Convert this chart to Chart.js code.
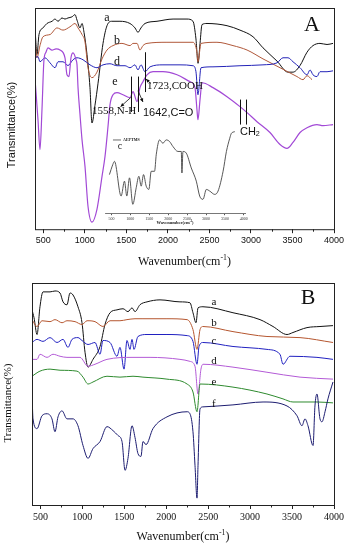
<!DOCTYPE html>
<html>
<head>
<meta charset="utf-8">
<script src="https://cdn.jsdelivr.net/npm/chart.js@4.4.1/dist/chart.umd.min.js"></script>
<style>
  body { margin: 0; background: #fff; }
  #wrap { position: relative; width: 350px; height: 550px; }
  canvas { position: absolute; }
</style>
</head>
<body>
<div id="wrap">
  <canvas id="chartA" width="350" height="275" style="left:0px;top:0px"></canvas>
  <canvas id="inset" width="150" height="105" style="left:100px;top:125px"></canvas>
  <canvas id="chartB" width="350" height="275" style="left:0px;top:275px"></canvas>
</div>
<script>
// x ticks (cm-1)
const majorTicks = [500, 1000, 1500, 2000, 2500, 3000, 3500, 4000];
const minorTicks = [750, 1250, 1750, 2250, 2750, 3250, 3750];

// ---- panel A ----
const aWaveA = [400, 424, 448, 496, 544, 605, 641, 677, 725, 761, 797, 845, 882, 906, 942, 966, 990, 1026, 1062, 1086, 1122, 1159, 1219, 1267, 1327, 1423, 1543, 1604, 1640, 1676, 1724, 1869, 2062, 2230, 2302, 2338, 2363, 2387, 2411, 2471, 2712, 2868, 3025, 3145, 3314, 3446, 3506, 3591, 3675, 3747, 3831, 3916, 3988];
const aTransA = [91, 79, 88, 91, 93, 94, 95, 94, 95.5, 95, 95.5, 96, 97, 94.5, 91, 93, 89, 79, 64, 48, 56, 66, 84, 92, 94, 94, 93, 91, 89, 91, 93, 94, 95, 95, 94, 86, 75, 84, 92.5, 93, 92, 90, 87, 82, 76, 71, 71, 74, 80, 83, 84, 83.5, 84];

const bWaveA = [400, 424, 460, 496, 581, 665, 737, 821, 882, 918, 966, 1002, 1038, 1086, 1146, 1207, 1267, 1339, 1447, 1544, 1580, 1628, 1664, 1700, 1748, 1989, 2302, 2350, 2362, 2399, 2591, 2784, 2953, 3145, 3350, 3554, 3627, 3675, 3735];
const bTransA = [86.5, 77.5, 83, 87, 88, 91, 90, 91.5, 93, 91, 88, 84.7, 73, 68.5, 71, 77, 81, 83, 84, 83, 84, 84, 81, 83, 84, 84.5, 84.5, 80, 75.7, 84, 84.5, 83, 81, 77, 73, 69, 67.6, 69.4, 67.6];

const dWaveA = [400, 436, 460, 520, 581, 641, 677, 737, 797, 858, 906, 978, 1062, 1146, 1219, 1303, 1387, 1484, 1544, 1604, 1640, 1676, 1724, 1785, 1941, 2146, 2302, 2338, 2362, 2399, 2543, 2868, 3145, 3314, 3386, 3446, 3506, 3591, 3675, 3711, 3747, 3795, 3831, 3916, 3988];
const dTransA = [77.5, 78, 75.7, 77.5, 75.2, 73, 75.7, 75.7, 74, 76.6, 77.5, 76.6, 74.3, 73, 74.3, 74.8, 73.9, 73.9, 73, 74.3, 72, 74.3, 71.2, 73.4, 74.3, 74.3, 73.9, 71.2, 60.8, 73, 73.4, 73.9, 74.3, 75.2, 77.5, 77.5, 75.7, 73, 69.8, 72, 69.8, 69, 71.2, 71.2, 71.6];

const eWaveA = [400, 436, 460, 484, 508, 532, 556, 605, 653, 701, 761, 785, 809, 833, 858, 894, 906, 918, 942, 966, 1002, 1038, 1086, 1146, 1207, 1243, 1279, 1303, 1339, 1387, 1460, 1544, 1580, 1628, 1664, 1700, 1748, 1821, 1941, 2110, 2266, 2326, 2350, 2362, 2387, 2411, 2543, 2712, 2868, 2953, 3073, 3229, 3350, 3434, 3506, 3591, 3675, 3795, 3868, 3988];
const eTransA = [68, 49.5, 36, 54, 76.6, 80, 82, 81, 81.5, 81, 77.5, 69.8, 69, 77.5, 79.7, 76.6, 74.3, 64, 51.8, 40.5, 28.4, 10.4, 3.2, 9, 23.9, 32.9, 46.4, 56.3, 60.8, 61.7, 60.8, 59.5, 62.2, 57.7, 64, 66.7, 69.8, 71.2, 71.2, 69.8, 66.7, 64, 54, 49.5, 58.6, 66.2, 64, 59.9, 55.4, 52.7, 48.6, 43.7, 38.3, 36.5, 39.2, 43.7, 45.9, 47.3, 46.8, 47.3];

// inset, AEPTMS (curve c)
const cWave = [447, 535, 580, 756, 845, 906, 977, 1065, 1155, 1224, 1287, 1348, 1419, 1489, 1551, 1640, 1684, 1772, 1860, 1949, 2037, 2125, 2257, 2346, 2363, 2390, 2478, 2610, 2743, 2832, 2920, 3009, 3097, 3230, 3318, 3451, 3539, 3627, 3671, 3760];
const cTrans = [46.4, 58.3, 62.3, 20.6, 38.5, 20.6, 42.5, 10.7, 30.6, 44.4, 32.5, 46.4, 32.5, 28.6, 50.4, 50.4, 70.2, 88.1, 84.1, 88.1, 86.1, 80.2, 74.2, 74.2, 48.4, 74.2, 72.2, 54.4, 38.5, 20.6, 16.7, 28.6, 26.6, 22.6, 26.6, 50.4, 74.2, 90.1, 96, 98];
const insetTicks = [500, 1000, 1500, 2000, 2500, 3000, 3500, 4000];

// ---- panel B ----
const aWaveB = [400, 424, 460, 495, 531, 615, 674, 734, 770, 817, 853, 889, 948, 996, 1032, 1068, 1127, 1211, 1270, 1330, 1413, 1485, 1544, 1592, 1628, 1687, 1771, 1926, 2164, 2283, 2319, 2355, 2379, 2438, 2796, 3118, 3273, 3440, 3511, 3678, 3833, 3988];
const aTransB = [87.9, 84.4, 76.8, 89.3, 96, 96, 96.4, 95.5, 91.5, 90.2, 95.5, 94.6, 89.3, 82.1, 68.8, 62.1, 65.6, 71.4, 81.3, 86.6, 87.9, 88.4, 87.1, 88.8, 87.1, 90.2, 91.5, 92.4, 91.5, 91.1, 86.6, 82.1, 88.8, 89.3, 86.6, 83.5, 80.4, 76.8, 77.7, 79.9, 80.4, 80.8];

const bWaveB = [400, 460, 519, 615, 674, 758, 817, 913, 996, 1056, 1151, 1246, 1330, 1449, 1532, 1628, 1723, 2009, 2248, 2319, 2367, 2403, 2438, 2796, 3201, 3595, 3988];
const bTransB = [83.5, 80.4, 83, 82.6, 83.5, 82.1, 83, 82.6, 81.3, 83, 82.6, 80.4, 83, 83, 83.5, 83.9, 83.9, 83.9, 83.5, 79, 70.1, 79, 80.4, 78.1, 75.9, 75.4, 73.2];

const cWaveB = [400, 460, 531, 615, 698, 770, 829, 877, 948, 996, 1068, 1151, 1211, 1246, 1330, 1413, 1449, 1497, 1532, 1568, 1592, 1616, 1663, 1771, 2009, 2248, 2319, 2367, 2391, 2438, 2796, 3201, 3356, 3392, 3475, 3797, 3988];
const cTransB = [73.2, 74.6, 73.7, 75.4, 73.2, 74.6, 71, 74.6, 75.4, 74.1, 72.3, 73.2, 67.9, 74.1, 73.2, 67, 71, 61.2, 74.1, 70.1, 74.6, 70.1, 75.9, 76.8, 76.8, 76.3, 73.7, 63.4, 71.4, 73.2, 71.4, 70.1, 67.9, 63.4, 67, 66.5, 65.6];

const dWaveB = [400, 460, 495, 579, 650, 734, 817, 972, 1068, 1151, 1294, 1604, 1807, 2164, 2283, 2343, 2379, 2414, 2438, 2796, 3201, 3595, 3988];
const dTransB = [65.6, 65.6, 67.9, 66.5, 67.9, 67, 66.5, 66.5, 62.5, 63.4, 65.6, 66.5, 66.5, 65.6, 64.7, 62.5, 50, 61.2, 63.4, 62.1, 59.8, 57.6, 56.7];

const eWaveB = [400, 495, 615, 734, 936, 1008, 1068, 1127, 1294, 1449, 1604, 1723, 2009, 2248, 2319, 2367, 2403, 2796, 3201, 3392, 3511, 3797, 3988];
const eTransB = [58, 60.3, 61.2, 60.7, 60.3, 57.6, 54.5, 55.4, 58, 57.6, 58, 57.6, 56.7, 54.5, 50.9, 42, 54.5, 53.1, 50, 47.8, 46.4, 46.4, 46];

const fWaveB = [400, 412, 460, 519, 579, 638, 674, 710, 758, 817, 889, 948, 1008, 1068, 1127, 1211, 1294, 1366, 1425, 1473, 1509, 1544, 1592, 1628, 1663, 1699, 1723, 1759, 1842, 2009, 2248, 2283, 2319, 2343, 2367, 2379, 2403, 2438, 2796, 3154, 3440, 3559, 3618, 3654, 3690, 3750, 3773, 3797, 3833, 3857, 3893, 3928, 3988];
const fTransB = [50, 38.8, 34.4, 40.2, 41.1, 38.8, 33, 39.7, 42.4, 38.8, 38.8, 35.7, 26.8, 21, 25.4, 28.6, 35.3, 33.5, 31.3, 28.6, 15.6, 21, 35.7, 30.4, 23.2, 21.9, 28.6, 27.2, 34.4, 39.7, 42, 41.1, 33, 17.9, 3.1, 17.9, 43.3, 44.2, 45.1, 46.4, 44.6, 40.2, 35.7, 38.8, 35.7, 26.8, 44.6, 50, 38.8, 37.5, 42, 47.8, 55.4];

function pts(w, t) { return w.map((v, i) => ({ x: v, y: t[i] })); }

function line(data, color, width) {
  return {
    data: data, borderColor: color, borderWidth: width || 1,
    pointRadius: 0, cubicInterpolationMode: 'monotone', fill: false
  };
}

function arrow(ctx, x1, y1, x2, y2) {
  ctx.beginPath();
  ctx.moveTo(x1, y1);
  ctx.lineTo(x2, y2);
  ctx.stroke();
  const ang = Math.atan2(y2 - y1, x2 - x1);
  ctx.beginPath();
  ctx.moveTo(x2, y2);
  ctx.lineTo(x2 - 4 * Math.cos(ang - 0.45), y2 - 4 * Math.sin(ang - 0.45));
  ctx.lineTo(x2 - 4 * Math.cos(ang + 0.45), y2 - 4 * Math.sin(ang + 0.45));
  ctx.closePath();
  ctx.fill();
}

// text with a raised or lowered small part, e.g. cm^-1, CH_2
function richText(ctx, x, y, parts, size, family, align, weight) {
  const w0 = weight ? weight + ' ' : '';
  const fontOf = p => w0 + (p.small ? size * 0.65 : size) + 'px ' + family;
  let total = 0;
  const widths = parts.map(p => {
    ctx.font = fontOf(p);
    const w = ctx.measureText(p.t).width;
    total += w;
    return w;
  });
  let cx = align === 'center' ? x - total / 2 : x;
  ctx.textAlign = 'left';
  ctx.textBaseline = 'middle';
  parts.forEach((p, i) => {
    ctx.font = fontOf(p);
    ctx.fillText(p.t, cx, y + (p.off ? p.off * size / 12 : 0));
    cx += widths[i];
  });
}

const wnTitle = [{ t: 'Wavenumber(cm' }, { t: '-1', small: true, off: -4 }, { t: ')' }];

// box, minor ticks, axis titles and labels
function frame(opts) {
  return {
    id: 'frame',
    afterDraw(chart) {
      const ctx = chart.ctx, a = chart.chartArea;
      const sx = chart.scales.x, sy = chart.scales.y;
      const X = v => sx.getPixelForValue(v), Y = v => sy.getPixelForValue(v);
      ctx.save();
      ctx.strokeStyle = '#222';
      ctx.fillStyle = '#111';
      ctx.lineWidth = 1;
      ctx.strokeRect(a.left + 0.5, a.top + 0.5, a.right - a.left, a.bottom - a.top);
      ctx.beginPath();
      minorTicks.forEach(v => {
        const px = Math.round(X(v)) + 0.5;
        ctx.moveTo(px, a.bottom);
        ctx.lineTo(px, a.bottom + 2.5);
      });
      ctx.stroke();
      // x title
      richText(ctx, (a.left + a.right) / 2, opts.xTitleY, wnTitle, 12, '"Liberation Serif", serif', 'center');
      // y title
      ctx.save();
      ctx.translate(opts.yTitleX, opts.yTitleY);
      ctx.rotate(-Math.PI / 2);
      ctx.font = opts.yTitleFont;
      ctx.textAlign = 'center';
      ctx.textBaseline = 'middle';
      ctx.fillText('Transmittance(%)', 0, 0);
      ctx.restore();
      opts.draw(ctx, X, Y);
      ctx.restore();
    }
  };
}

function baseOptions(fontFamily, fontSize, pad) {
  return {
    responsive: false, animation: false, devicePixelRatio: 1,
    layout: { padding: pad },
    plugins: { legend: { display: false }, tooltip: { enabled: false } },
    scales: {
      x: {
        type: 'linear', min: 400, max: 4000,
        afterBuildTicks: ax => { ax.ticks = majorTicks.map(v => ({ value: v })); },
        grid: { drawOnChartArea: false, tickLength: 4, color: '#222' },
        border: { display: false },
        ticks: {
          font: { family: fontFamily, size: fontSize }, color: '#111', padding: 2,
          maxRotation: 0, autoSkip: false, callback: v => String(v)
        }
      },
      y: { display: false, min: 0, max: 100 }
    }
  };
}

// ---------- chart A ----------
new Chart(document.getElementById('chartA'), {
  type: 'line',
  data: {
    datasets: [
      line(pts(eWaveA, eTransA), '#a249d6', 1.2),
      line(pts(dWaveA, dTransA), '#2424b8'),
      line(pts(bWaveA, bTransA), '#b0583a'),
      line(pts(aWaveA, aTransA), '#111')
    ]
  },
  options: baseOptions('"Liberation Sans", sans-serif', 9, { left: 35, right: 16, top: 8, bottom: 27 }),
  plugins: [frame({
    xTitleY: 262, yTitleX: 12, yTitleY: 125,
    yTitleFont: '11px "Liberation Sans", sans-serif',
    draw(ctx, X, Y) {
      const serif = '"Liberation Serif", serif';
      ctx.textAlign = 'center';
      ctx.textBaseline = 'middle';
      ctx.font = '12px ' + serif;
      ctx.fillText('a', X(1267), Y(95.5));
      ctx.fillText('b', X(1387), Y(85));
      ctx.fillText('d', X(1387), Y(75.7));
      ctx.fillText('e', X(1363), Y(66.7));
      ctx.font = '22px ' + serif;
      ctx.fillText('A', X(3735), Y(92.3));
      // band markers
      ctx.strokeStyle = '#111';
      ctx.lineWidth = 1;
      ctx.beginPath();
      [[1558, 69, 53], [1642, 69, 53], [1723, 80, 62], [2870, 58.6, 47.3], [2945, 58.6, 47.3]].forEach(m => {
        const px = Math.round(X(m[0])) + 0.5;
        ctx.moveTo(px, Y(m[1]));
        ctx.lineTo(px, Y(m[2]));
      });
      ctx.stroke();
      ctx.lineWidth = 0.8;
      arrow(ctx, X(1552), Y(59.5), X(1430), Y(55.4));
      arrow(ctx, X(1640), Y(62.6), X(1700), Y(57.5));
      arrow(ctx, X(1797), Y(65.8), X(1736), Y(67.9));
      ctx.textAlign = 'left';
      ctx.font = '11px ' + serif;
      ctx.fillText('1723,COOH', X(1748), Y(64.9));
      ctx.fillText('1558,N-H', X(1086), Y(53.2));
      ctx.font = '11px "Liberation Sans", sans-serif';
      ctx.fillText('1642,C=O', X(1700), Y(52.7));
      richText(ctx, X(2868), Y(44.1), [{ t: 'CH' }, { t: '2', small: true, off: 3 }], 11, '"Liberation Sans", sans-serif', 'left');
    }
  })]
});

// ---------- inset (AEPTMS) ----------
new Chart(document.getElementById('inset'), {
  type: 'line',
  data: { datasets: [line(pts(cWave, cTrans), '#444', 0.9)] },
  options: {
    responsive: false, animation: false, devicePixelRatio: 1,
    layout: { padding: { left: 5, right: 5, top: 5, bottom: 8 } },
    plugins: { legend: { display: false }, tooltip: { enabled: false } },
    scales: {
      x: {
        type: 'linear', min: 330, max: 4030,
        afterBuildTicks: ax => { ax.ticks = insetTicks.map(v => ({ value: v })); },
        grid: { drawOnChartArea: false, tickLength: 2, color: '#555' },
        border: { display: true, color: '#555', width: 0.8 },
        ticks: {
          font: { family: '"Liberation Serif", serif', size: 4 }, color: '#333', padding: 1,
          maxRotation: 0, autoSkip: false, callback: v => String(v)
        }
      },
      y: { display: false, min: 0, max: 100 }
    }
  },
  plugins: [{
    id: 'insetText',
    afterDraw(chart) {
      const ctx = chart.ctx, a = chart.chartArea;
      const X = v => chart.scales.x.getPixelForValue(v), Y = v => chart.scales.y.getPixelForValue(v);
      ctx.save();
      ctx.fillStyle = '#222';
      ctx.strokeStyle = '#444';
      ctx.lineWidth = 0.8;
      ctx.beginPath();
      ctx.moveTo(X(541), Y(88));
      ctx.lineTo(X(753), Y(88));
      ctx.stroke();
      ctx.textAlign = 'left';
      ctx.textBaseline = 'middle';
      ctx.font = 'bold 4px "Liberation Serif", serif';
      ctx.fillText('AEPTMS', X(806), Y(88));
      ctx.font = '10px "Liberation Serif", serif';
      ctx.textAlign = 'center';
      ctx.fillText('c', X(726), Y(80));
      richText(ctx, (a.left + a.right) / 2, a.bottom + 10, wnTitle, 4.5, '"Liberation Serif", serif', 'center', 'bold');
      ctx.restore();
    }
  }]
});

// ---------- chart B ----------
new Chart(document.getElementById('chartB'), {
  type: 'line',
  data: {
    datasets: [
      line(pts(fWaveB, fTransB), '#1c1c70'),
      line(pts(eWaveB, eTransB), '#2e8a2e'),
      line(pts(dWaveB, dTransB), '#b35ad6'),
      line(pts(cWaveB, cTransB), '#2020c0'),
      line(pts(bWaveB, bTransB), '#b5562f'),
      line(pts(aWaveB, aTransB), '#111')
    ]
  },
  options: baseOptions('"Liberation Serif", serif', 10, { left: 32, right: 16, top: 8, bottom: 25 }),
  plugins: [frame({
    xTitleY: 262, yTitleX: 8, yTitleY: 128,
    yTitleFont: '11px "Liberation Serif", serif',
    draw(ctx, X, Y) {
      const serif = '"Liberation Serif", serif';
      ctx.textAlign = 'center';
      ctx.textBaseline = 'middle';
      ctx.font = '11px ' + serif;
      [['a', 91.5], ['b', 82.1], ['c', 73.7], ['d', 64.7], ['e', 55.4], ['f', 45.5]].forEach(l => {
        ctx.fillText(l[0], X(2569), Y(l[1]));
      });
      ctx.font = '22px ' + serif;
      ctx.fillText('B', X(3690), Y(93.3));
    }
  })]
});
</script>
</body>
</html>
